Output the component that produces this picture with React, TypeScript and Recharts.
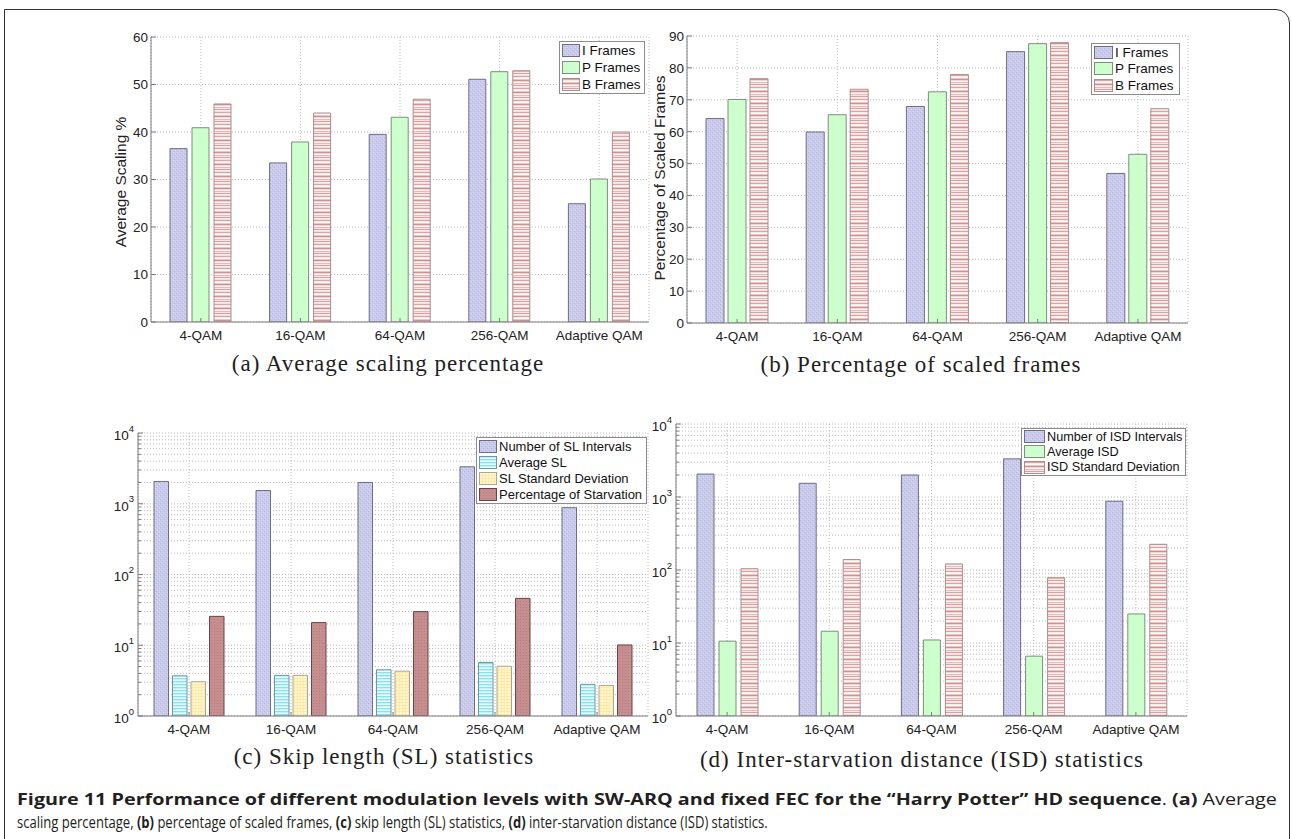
import React, { useLayoutEffect, useRef, useState } from 'react';
import { BarChart, Bar, XAxis, YAxis, CartesianGrid, Legend } from 'recharts';

// ---------- DATA ----------
const categories = ['4-QAM', '16-QAM', '64-QAM', '256-QAM', 'Adaptive QAM'];

// (a) Average scaling percentage
const avgScalingI = [36.5, 33.5, 39.5, 51.1, 24.9];
const avgScalingP = [40.9, 37.9, 43.1, 52.7, 30.1];
const avgScalingB = [45.9, 44.0, 46.9, 52.9, 40.0];

// (b) Percentage of scaled frames
const scaledFramesI = [64.1, 59.9, 67.9, 85.1, 46.9];
const scaledFramesP = [70.1, 65.3, 72.5, 87.6, 52.9];
const scaledFramesB = [76.6, 73.3, 77.9, 87.9, 67.2];

// (c) Skip length statistics
const slIntervals = [2060, 1540, 2000, 3330, 880];
const avgSL = [3.7, 3.75, 4.5, 5.7, 2.8];
const slStd = [3.05, 3.75, 4.3, 5.05, 2.7];
const starvationPct = [25.6, 20.9, 29.9, 46.0, 10.1];

// (d) Inter-starvation distance statistics
const isdIntervals = [2060, 1540, 2000, 3330, 875];
const avgISD = [10.6, 14.5, 11.0, 6.6, 25.0];
const isdStd = [104, 139, 121, 78.5, 225];

// tick labels
const ticksA = [0, 10, 20, 30, 40, 50, 60];
const ticksB = [0, 10, 20, 30, 40, 50, 60, 70, 80, 90];
const logMajors = [1, 10, 100, 1000, 10000];
const logMultipliers = [1, 2, 3, 4, 5, 6, 7, 8, 9];
const logTicks: number[] = [];
logMajors.forEach((m, i) => {
  if (i === logMajors.length - 1) logTicks.push(m);
  else logMultipliers.forEach((k) => logTicks.push(m * k));
});

// ---------- STYLE ----------
const SANS = '"Liberation Sans", Arial, sans-serif';
const SERIF = '"Liberation Serif", "Times New Roman", serif';
const AXIS = '#7d7d7d';
const TXT = '#222';
const GRID = '#bcbcbc';
const Y_MARGIN = 7;
const X_MARGIN = 8;

type Series = { key: string; name: string; values: number[]; fill: string; stroke: string };

const isPow10 = (v: number) => v > 0 && Math.abs(Math.log10(v) - Math.round(Math.log10(v))) < 1e-9;

const XTick = (props: any) => {
  const { x, y, payload } = props;
  const ay = y - X_MARGIN;
  return (
    <g>
      <line x1={x} x2={x} y1={ay} y2={ay - 4} stroke={AXIS} strokeWidth={1} />
      <text x={x} y={y} dy="0.71em" textAnchor="middle" fontSize={13.5} fontFamily={SANS} fill={TXT}>
        {payload.value}
      </text>
    </g>
  );
};

const TopTick = (props: any) => {
  const { x, y } = props;
  return <line x1={x} x2={x} y1={y} y2={y + 4} stroke={AXIS} strokeWidth={1} />;
};

const makeYTick = (log: boolean) => (props: any) => {
  const { x, y, payload } = props;
  const v = payload.value as number;
  const ax = x + Y_MARGIN;
  const major = !log || isPow10(v);
  const len = major ? 5 : 3;
  let label: React.ReactNode = null;
  if (major) {
    if (log) {
      const e = Math.round(Math.log10(v));
      label = (
        <text x={ax - 4} y={y} textAnchor="end" fontSize={13.5} fontFamily={SANS} fill={TXT}>
          <tspan dy="0.5em">10</tspan>
          <tspan dy="-0.85em" fontSize={9.5}>{e}</tspan>
        </text>
      );
    } else {
      label = (
        <text x={ax - 3} y={y} dy="0.36em" textAnchor="end" fontSize={13.5} fontFamily={SANS} fill={TXT}>
          {v}
        </text>
      );
    }
  }
  return (
    <g>
      <line x1={ax} x2={ax + len} y1={y} y2={y} stroke={AXIS} strokeWidth={1} />
      {label}
    </g>
  );
};

const makeRightTick = (log: boolean) => (props: any) => {
  const { x, y, payload } = props;
  const v = payload.value as number;
  const len = !log || isPow10(v) ? 5 : 3;
  return <line x1={x} x2={x - len} y1={y} y2={y} stroke={AXIS} strokeWidth={1} />;
};

type LegendSpec = { x: number; y: number; w: number; h: number; font: number; sw: number; shh: number };

const LegendBox = ({ series, spec }: { series: Series[]; spec: LegendSpec }) => {
  const rowH = (spec.h - 2) / series.length;
  return (
    <div
      style={{
        width: spec.w,
        height: spec.h,
        boxSizing: 'border-box',
        border: '1px solid #8c8c8c',
        background: '#fff',
        paddingLeft: 2,
      }}
    >
      {series.map((s) => (
        <div
          key={s.key}
          style={{
            height: rowH,
            display: 'flex',
            alignItems: 'center',
            fontFamily: SANS,
            fontSize: spec.font,
            color: '#111',
            whiteSpace: 'nowrap',
          }}
        >
          <svg width={spec.sw} height={spec.shh} style={{ marginRight: 2, flex: 'none' }}>
            <rect x={0.5} y={0.5} width={spec.sw - 1} height={spec.shh - 1} fill={s.fill} stroke={s.stroke} />
          </svg>
          <span>{s.name}</span>
        </div>
      ))}
    </div>
  );
};

type PanelProps = {
  left: number;
  top: number;
  width: number;
  height: number;
  yAxisWidth: number;
  series: Series[];
  log?: boolean;
  domain: [number, number];
  ticks: number[];
  barSize: number;
  barGap: number;
  yLabel?: string;
  yLabelX?: number;
  yLabelY?: number;
  legend: LegendSpec;
};

const Panel = (p: PanelProps) => {
  const data = categories.map((c, i) => {
    const row: Record<string, string | number> = { cat: c };
    p.series.forEach((s) => {
      row[s.key] = s.values[i];
    });
    return row;
  });
  const log = !!p.log;
  return (
    <div style={{ position: 'absolute', left: p.left, top: p.top }}>
      <BarChart
        width={p.width}
        height={p.height}
        data={data}
        margin={{ top: 10, right: 10, bottom: 5, left: 0 }}
        barSize={p.barSize}
        barGap={p.barGap}
      >
        <CartesianGrid stroke={GRID} strokeDasharray="1 2" vertical horizontal />
        <XAxis
          dataKey="cat"
          height={30}
          tickLine={false}
          tickSize={0}
          tickMargin={X_MARGIN}
          tick={<XTick />}
          axisLine={{ stroke: AXIS }}
          interval={0}
        />
        <XAxis
          xAxisId="top"
          dataKey="cat"
          orientation="top"
          height={0}
          tickLine={false}
          tickSize={0}
          tickMargin={0}
          tick={<TopTick />}
          axisLine={{ stroke: AXIS }}
          interval={0}
        />
        <YAxis
          width={p.yAxisWidth}
          scale={log ? 'log' : 'linear'}
          type="number"
          domain={p.domain}
          ticks={p.ticks}
          interval={0}
          allowDataOverflow
          tickLine={false}
          tickSize={0}
          tickMargin={Y_MARGIN}
          tick={makeYTick(log)}
          axisLine={{ stroke: AXIS }}
          label={
            p.yLabel
              ? () => {
                  const cx = (p.yLabelX as number) - p.left;
                  const cy = (p.yLabelY as number) - p.top;
                  return (
                    <text
                      x={cx}
                      y={cy}
                      transform={`rotate(-90 ${cx} ${cy})`}
                      textAnchor="middle"
                      dominantBaseline="central"
                      fontSize={15.5}
                      fontFamily={SANS}
                      fill={TXT}
                    >
                      {p.yLabel}
                    </text>
                  );
                }
              : undefined
          }
        />
        <YAxis
          yAxisId="right"
          orientation="right"
          width={0}
          scale={log ? 'log' : 'linear'}
          type="number"
          domain={p.domain}
          ticks={p.ticks}
          interval={0}
          allowDataOverflow
          tickLine={false}
          tickSize={0}
          tickMargin={0}
          tick={makeRightTick(log)}
          axisLine={{ stroke: AXIS }}
        />
        <Legend
          layout="vertical"
          align="center"
          verticalAlign="middle"
          wrapperStyle={{ left: p.legend.x - p.left, top: p.legend.y - p.top, width: p.legend.w, height: p.legend.h }}
          content={() => <LegendBox series={p.series} spec={p.legend} />}
        />
        {p.series.map((s) => (
          <Bar
            key={s.key}
            dataKey={s.key}
            name={s.name}
            fill={s.fill}
            stroke={s.stroke}
            strokeWidth={1}
            isAnimationActive={false}
          />
        ))}
      </BarChart>
    </div>
  );
};

const Title = ({ text, cx, cy }: { text: string; cx: number; cy: number }) => (
  <div
    style={{
      position: 'absolute',
      left: cx - 300,
      width: 600,
      top: cy - 14,
      height: 28,
      lineHeight: '28px',
      textAlign: 'center',
      fontFamily: SERIF,
      fontSize: 23,
      letterSpacing: 1,
      color: '#1e1e1e',
      whiteSpace: 'nowrap',
    }}
  >
    {text}
  </div>
);

// A caption line fitted horizontally to the reference width
const FitLine = ({ left, top, target, children }: { left: number; top: number; target: number; children: React.ReactNode }) => {
  const ref = useRef<HTMLDivElement>(null);
  const [s, setS] = useState(1);
  useLayoutEffect(() => {
    if (ref.current) {
      const w = ref.current.offsetWidth;
      if (w > 0) setS(target / w);
    }
  }, [target]);
  return (
    <div
      ref={ref}
      style={{
        position: 'absolute',
        left,
        top,
        whiteSpace: 'nowrap',
        fontFamily: '"Open Sans", sans-serif',
        fontSize: 16.5,
        lineHeight: '20px',
        color: '#231f20',
        transform: `scaleX(${s})`,
        transformOrigin: '0 0',
      }}
    >
      {children}
    </div>
  );
};

const Patterns = () => (
  <svg width={0} height={0} style={{ position: 'absolute' }}>
    <defs>
      <pattern id="pI" width="4" height="4" patternUnits="userSpaceOnUse">
        <rect width="4" height="4" fill="#cacaec" />
        <rect x="0" y="0" width="1" height="1" fill="#b7b7dc" />
        <rect x="2" y="2" width="1" height="1" fill="#b7b7dc" />
        <rect x="1" y="3" width="1" height="1" fill="#d9d9f4" />
        <rect x="3" y="1" width="1" height="1" fill="#d9d9f4" />
      </pattern>
      <pattern id="pB" width="6" height="12" patternUnits="userSpaceOnUse">
        <rect y="0" width="6" height="1" fill="#f6dddd" />
        <rect y="1" width="6" height="1" fill="#dda4a4" />
        <rect y="2" width="6" height="1" fill="#fbeaea" />
        <rect y="3" width="6" height="1" fill="#ffffff" />
        <rect y="4" width="6" height="1" fill="#eec4c4" />
        <rect y="5" width="6" height="1" fill="#d38e8e" />
        <rect y="6" width="6" height="1" fill="#f3d6d6" />
        <rect y="7" width="6" height="1" fill="#fff6f6" />
        <rect y="8" width="6" height="1" fill="#e9b9b9" />
        <rect y="9" width="6" height="1" fill="#f9e6e6" />
        <rect y="10" width="6" height="1" fill="#dc9e9e" />
        <rect y="11" width="6" height="1" fill="#fdf1f1" />
      </pattern>
      <pattern id="pCyan" width="4" height="3" patternUnits="userSpaceOnUse">
        <rect width="4" height="3" fill="#f0fcff" />
        <rect y="0" width="4" height="1" fill="#80e4f5" />
        <rect y="1" width="4" height="1" fill="#c4f3fb" />
      </pattern>
      <pattern id="pYel" width="3" height="3" patternUnits="userSpaceOnUse">
        <rect width="3" height="3" fill="#fff7d6" />
        <rect x="0" y="0" width="1" height="3" fill="#ffeaa6" />
        <rect x="0" y="0" width="3" height="1" fill="#ffe8a2" />
      </pattern>
      <pattern id="pRed" width="3" height="3" patternUnits="userSpaceOnUse">
        <rect width="3" height="3" fill="#c68e8e" />
        <rect x="1" y="1" width="1" height="1" fill="#b87c7c" />
      </pattern>
    </defs>
  </svg>
);

const seriesA: Series[] = [
  { key: 'i', name: 'I Frames', values: avgScalingI, fill: 'url(#pI)', stroke: '#6c6c88' },
  { key: 'p', name: 'P Frames', values: avgScalingP, fill: '#ccffcc', stroke: '#7f8e7f' },
  { key: 'b', name: 'B Frames', values: avgScalingB, fill: 'url(#pB)', stroke: '#a88e8e' },
];
const seriesB: Series[] = [
  { key: 'i', name: 'I Frames', values: scaledFramesI, fill: 'url(#pI)', stroke: '#6c6c88' },
  { key: 'p', name: 'P Frames', values: scaledFramesP, fill: '#ccffcc', stroke: '#7f8e7f' },
  { key: 'b', name: 'B Frames', values: scaledFramesB, fill: 'url(#pB)', stroke: '#a88e8e' },
];
const seriesC: Series[] = [
  { key: 'n', name: 'Number of SL Intervals', values: slIntervals, fill: 'url(#pI)', stroke: '#6c6c88' },
  { key: 'a', name: 'Average SL', values: avgSL, fill: 'url(#pCyan)', stroke: '#6a98a2' },
  { key: 's', name: 'SL Standard Deviation', values: slStd, fill: 'url(#pYel)', stroke: '#a8a898' },
  { key: 'p', name: 'Percentage of Starvation', values: starvationPct, fill: 'url(#pRed)', stroke: '#6b4545' },
];
const seriesD: Series[] = [
  { key: 'n', name: 'Number of ISD Intervals', values: isdIntervals, fill: 'url(#pI)', stroke: '#6c6c88' },
  { key: 'a', name: 'Average ISD', values: avgISD, fill: '#ccffcc', stroke: '#7f8e7f' },
  { key: 's', name: 'ISD Standard Deviation', values: isdStd, fill: 'url(#pB)', stroke: '#a88e8e' },
];

export default function App() {
  return (
    <div style={{ position: 'fixed', left: 0, top: 0, width: 1292, height: 839, background: '#fff', overflow: 'hidden' }}>
      <Patterns />
      <div
        style={{
          position: 'absolute',
          left: 4,
          top: 9,
          width: 1286,
          height: 900,
          boxSizing: 'border-box',
          border: '1.5px solid #333',
          borderTopRightRadius: 14,
        }}
      />
      <Panel
        left={70}
        top={27}
        width={589}
        height={330}
        yAxisWidth={81}
        series={seriesA}
        domain={[0, 60]}
        ticks={ticksA}
        barSize={17}
        barGap={5}
        yLabel="Average Scaling %"
        yLabelX={120}
        yLabelY={182}
        legend={{ x: 559, y: 41, w: 86, h: 53, font: 13.5, sw: 18, shh: 13 }}
      />
      <Panel
        left={610}
        top={26}
        width={588}
        height={332}
        yAxisWidth={77}
        series={seriesB}
        domain={[0, 90]}
        ticks={ticksB}
        barSize={18}
        barGap={4}
        yLabel="Percentage of Scaled Frames"
        yLabelX={659}
        yLabelY={178}
        legend={{ x: 1091, y: 43, w: 89, h: 52, font: 13.5, sw: 19, shh: 13 }}
      />
      <Panel
        left={60}
        top={423}
        width={598}
        height={328}
        yAxisWidth={78}
        series={seriesC}
        log
        domain={[1, 10000]}
        ticks={logTicks}
        barSize={14.5}
        barGap={4}
        legend={{ x: 476, y: 437, w: 171, h: 67, font: 13, sw: 18, shh: 13 }}
      />
      <Panel
        left={598}
        top={414}
        width={599}
        height={337}
        yAxisWidth={78}
        series={seriesD}
        log
        domain={[1, 10000]}
        ticks={logTicks}
        barSize={17}
        barGap={5}
        legend={{ x: 1021, y: 428, w: 165, h: 48, font: 12.7, sw: 21, shh: 13 }}
      />
      <Title text="(a) Average scaling percentage" cx={388} cy={364} />
      <Title text="(b) Percentage of scaled frames" cx={921} cy={365} />
      <Title text="(c) Skip length (SL) statistics" cx={384} cy={757} />
      <Title text="(d) Inter-starvation distance (ISD) statistics" cx={922} cy={760} />
      <FitLine left={17} top={789} target={1260}>
        <b>{'Figure 11 Performance of different modulation levels with SW-ARQ and fixed FEC for the \u201CHarry Potter\u201D HD sequence'}</b>
        {'. '}
        <b>{'(a)'}</b>
        {' Average'}
      </FitLine>
      <FitLine left={17} top={812} target={751}>
        {'scaling percentage, '}
        <b>{'(b)'}</b>
        {' percentage of scaled frames, '}
        <b>{'(c)'}</b>
        {' skip length (SL) statistics, '}
        <b>{'(d)'}</b>
        {' inter-starvation distance (ISD) statistics.'}
      </FitLine>
    </div>
  );
}
